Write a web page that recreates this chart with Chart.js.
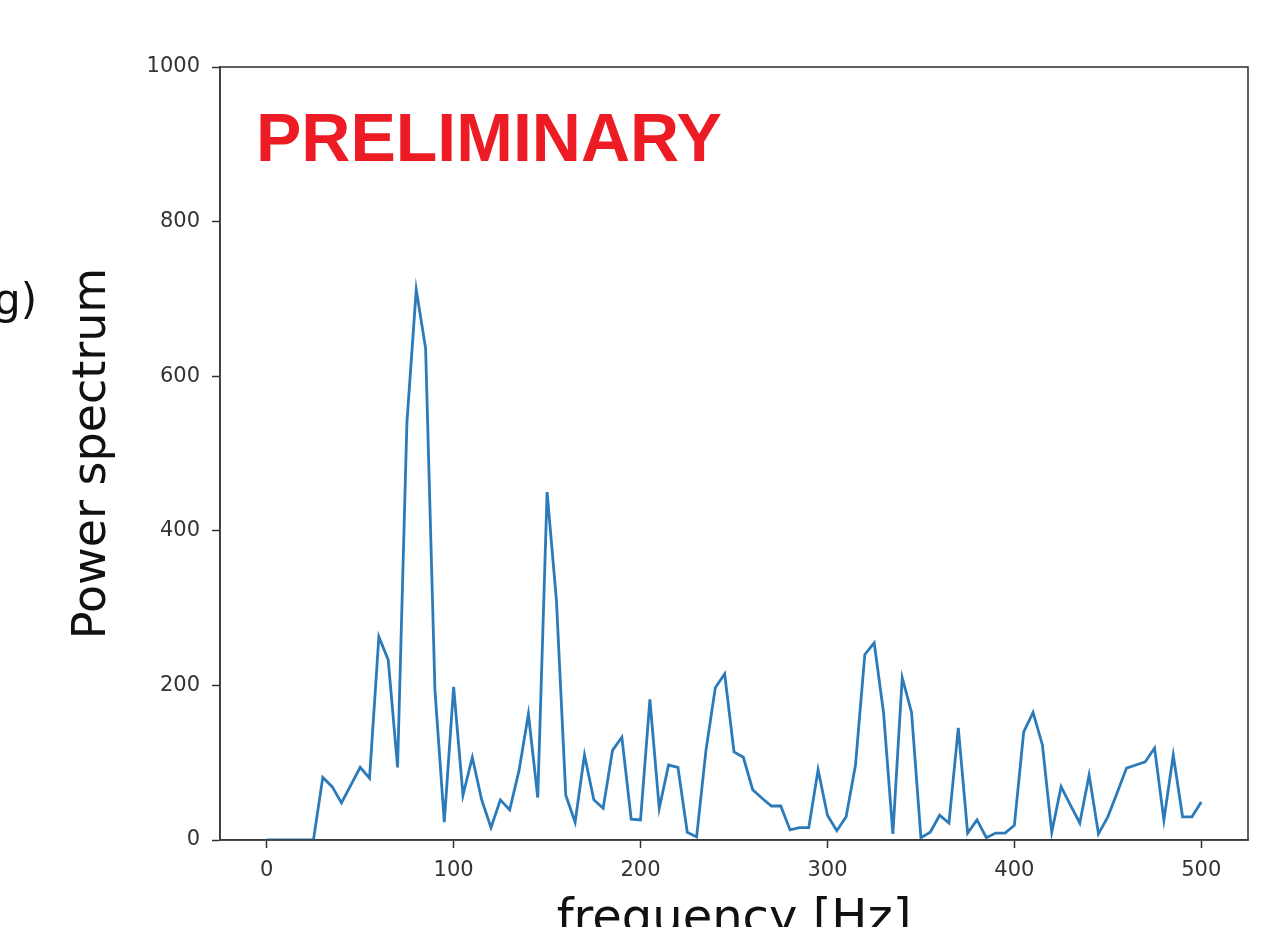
<!DOCTYPE html>
<html>
<head>
<meta charset="utf-8">
<script src="https://cdn.jsdelivr.net/npm/chart.js@4"></script>
<style>
  html, body { margin: 0; padding: 0; background: #fff; overflow: hidden; }
  canvas { display: block; }
</style>
</head>
<body>
<canvas id="myChart" width="1266" height="927"></canvas>
<script>
// frequency [Hz], step 5
const freq = [];
for (let f = 0; f <= 500; f += 5) freq.push(f);

// power values
const power = [
    0, 0, 0, 0, 0, 0, 81, 69, 48, 71,
    94, 80, 263, 233, 94, 540, 712, 636, 194, 23,
    198, 58, 107, 52, 16, 52, 39, 90, 163, 55,
    450, 310, 58, 23, 110, 52, 41, 116, 133, 27,
    26, 182, 41, 97, 94, 10, 4, 116, 197, 215,
    114, 107, 65, 54, 44, 44, 13, 16, 16, 91,
    32, 12, 30, 97, 240, 255, 165, 8, 210, 165,
    3, 10, 32, 22, 145, 9, 26, 3, 9, 9,
    19, 140, 165, 123, 10, 69, 45, 22, 84, 8,
    30, 61, 93, 97, 101, 119, 26, 110, 30, 30,
    49
];

const xTicks = [0, 100, 200, 300, 400, 500];
const yTicks = [0, 200, 400, 600, 800, 1000];

// рамка вокруг области графика и надписи
const decor = {
    id: 'decor',
    afterDraw(chart) {
        const ctx = chart.ctx;
        const a = chart.chartArea;
        ctx.save();
        ctx.strokeStyle = '#3a3a3a';
        ctx.lineWidth = 1.6;
        ctx.strokeRect(a.left, a.top, a.right - a.left, a.bottom - a.top);

        ctx.fillStyle = '#ed1c24';
        ctx.font = 'bold 68px "Liberation Sans", Arial, sans-serif';
        ctx.textBaseline = 'alphabetic';
        ctx.fillText('PRELIMINARY', 256, 161);

        ctx.fillStyle = '#111';
        ctx.font = '42px "DejaVu Sans", sans-serif';
        ctx.fillText('g)', -6, 314);
        ctx.restore();
    }
};

const ctx = document.getElementById('myChart').getContext('2d');
new Chart(ctx, {
    type: 'line',
    data: {
        datasets: [{
            data: freq.map((f, i) => ({ x: f, y: power[i] })),
            borderColor: '#2b7bba',
            borderWidth: 2.8,
            pointRadius: 0,
            tension: 0,
            fill: false
        }]
    },
    options: {
        responsive: false,
        animation: false,
        layout: { padding: { left: 0, right: 18, top: 67, bottom: 0 } },
        plugins: { legend: { display: false }, tooltip: { enabled: false } },
        scales: {
            x: {
                type: 'linear',
                min: -25,
                max: 525,
                afterBuildTicks: s => { s.ticks = xTicks.map(v => ({ value: v })); },
                afterFit: s => { s.height = 87; },
                grid: { drawOnChartArea: false, tickLength: 8, tickColor: '#333', tickWidth: 1.5 },
                border: { color: '#3a3a3a', width: 1.6 },
                ticks: {
                    color: '#333', padding: 10, maxRotation: 0,
                    font: { family: 'DejaVu Sans', size: 21 },
                    callback: v => String(v)
                },
                title: {
                    display: true,
                    text: 'frequency [Hz]',
                    color: '#111',
                    font: { family: 'DejaVu Sans', size: 48 },
                    padding: { top: 0, bottom: -22 }
                }
            },
            y: {
                type: 'linear',
                min: 0,
                max: 1000,
                afterBuildTicks: s => { s.ticks = yTicks.map(v => ({ value: v })); },
                afterFit: s => { s.width = 220; },
                grid: { drawOnChartArea: false, tickLength: 8, tickColor: '#333', tickWidth: 1.5 },
                border: { color: '#3a3a3a', width: 1.6 },
                ticks: {
                    color: '#333', padding: 12,
                    font: { family: 'DejaVu Sans', size: 21 },
                    callback: v => String(v)
                },
                title: {
                    display: true,
                    text: 'Power spectrum',
                    color: '#111',
                    font: { family: 'DejaVu Sans', size: 46 },
                    padding: { top: 65, bottom: 0 }
                }
            }
        }
    },
    plugins: [decor]
});
</script>
</body>
</html>
